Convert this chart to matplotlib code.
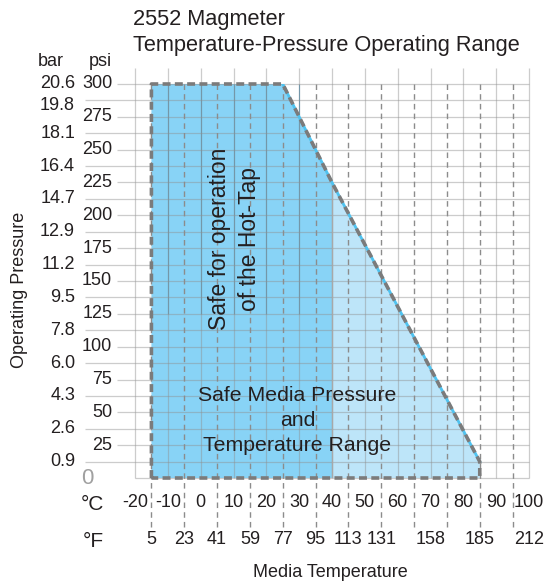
import numpy as np
import matplotlib.pyplot as plt

plt.rcParams['font.family'] = ['Liberation Sans', 'DejaVu Sans']

# data
temp_c = [-20, -10, 0, 10, 20, 30, 40, 50, 60, 70, 80, 90, 100]
temp_f_pos = [-15, -5, 5, 15, 25, 35, 45, 55, 70, 85, 100]
temp_f = [5, 23, 41, 59, 77, 95, 113, 131, 158, 185, 212]
psi_ticks = [25, 50, 75, 100, 125, 150, 175, 200, 225, 250, 275, 300]
bar_pos = [12.5, 37.5, 62.5, 87.5, 112.5, 137.5, 162.5, 187.5, 212.5, 237.5, 262.5, 284, 300]
bar_lab = ['0.9', '2.6', '4.3', '6.0', '7.8', '9.5', '11.2', '12.9', '14.7', '16.4', '18.1', '19.8', '20.6']

# operating envelope
env_t = [-15, 25, 40, 85]
env_p = [300, 300, 225, 12.5]
hot_tap_max_t = 40

fig = plt.figure(figsize=(5.54, 5.84), dpi=100)
W, H = 554, 584
ax = fig.add_axes([135 / W, (H - 478) / H, 394 / W, 394 / H])
ax.set_xlim(-20, 100)
ax.set_ylim(0, 300)
ax.axis('off')

txt_c = '#231f20'
grid_c = '#8f8f8f'
# horizontal grid every 12.5 psi
hl = np.arange(0, 301, 12.5)
ax.hlines(hl, -20, 100, color=grid_c, alpha=0.45, lw=0.9, zorder=3, clip_on=False)
ax.hlines(psi_ticks, -0.045, 0, transform=ax.get_yaxis_transform(), color=grid_c, alpha=0.45, lw=0.9, clip_on=False)
ax.hlines(bar_pos[:-2] + [287.5], -0.127, 0, transform=ax.get_yaxis_transform(), color=grid_c, alpha=0.45, lw=0.9, clip_on=False)
# vertical grid
ax.vlines(temp_c, 0, 312, color=grid_c, alpha=0.45, lw=0.9, zorder=3, clip_on=False)
dash_t = np.arange(-15, 96, 10)
ax.vlines(dash_t, -37, 300, color='#8c8c8c', lw=1.0, linestyles=(0, (4, 3)), zorder=3, clip_on=False)

# fills
ax.fill([env_t[0], env_t[0], env_t[1], env_t[2], env_t[2]],
        [0, env_p[0], env_p[1], env_p[2], 0], color='#88d3f6', zorder=1, lw=0)
ax.fill([env_t[2], env_t[2], env_t[3], env_t[3]],
        [0, env_p[2], env_p[3], 0], color='#bde5f9', zorder=1, lw=0)
# darker lines in hot-tap zone
ax.vlines([-10, 0, 10, 20, 30], 125, 300, color='#5f9fbf', lw=0.8, zorder=2)
ax.vlines([hot_tap_max_t], 0, env_p[2], color='#a8a8a8', lw=1.0, zorder=4)

# edge of envelope
ax.plot(env_t[1:], env_p[1:], color='#4fc3f0', lw=2.0, zorder=4)
ot = [env_t[0]] + env_t + [env_t[-1], env_t[0]]
op = [0] + env_p + [0, 0]
ax.plot(ot, op, color='#7b7b7b', lw=2.6, ls=(0, (2.2, 1.2)), zorder=5, clip_on=False)

fs = 13
ytr = ax.get_yaxis_transform()
# psi labels
for p in psi_ticks:
    ax.text(-0.058, p, str(p), transform=ytr, ha='right', va='center', fontsize=fs, color=txt_c)
for p, l in zip(bar_pos, bar_lab):
    ax.text(-0.152, p, l, transform=ytr, ha='right', va='center', fontsize=fs, color=txt_c)
ax.text(-0.122, 0, '0', transform=ytr, ha='center', va='center', fontsize=16, color='#a0a0a0')
ax.text(-0.213, 317, 'bar', transform=ytr, ha='center', va='center', fontsize=fs, color=txt_c)
ax.text(-0.089, 317, 'psi', transform=ytr, ha='center', va='center', fontsize=fs, color=txt_c)

# temperature labels
for t in temp_c:
    ax.text(t, -19, str(t), ha='center', va='center', fontsize=fs, color=txt_c)
for t, f in zip(temp_f_pos, temp_f):
    ax.text(t, -47, str(f), ha='center', va='center', fontsize=fs, color=txt_c)
ax.text(-0.107, -20, '°C', transform=ytr, ha='center', va='center', fontsize=15, color=txt_c)
ax.text(-0.107, -48, '°F', transform=ytr, ha='center', va='center', fontsize=15, color=txt_c)

ax.text(0.496, -0.239, 'Media Temperature', transform=ax.transAxes, ha='center', va='center', fontsize=13, color=txt_c)
ax.text(-0.292, 143, 'Operating Pressure', transform=ytr, rotation=90, ha='center', va='center', fontsize=13, color=txt_c)

# region labels
ax.text(10.3, 182, 'Safe for operation\nof the Hot-Tap', rotation=90, ha='center', va='center', fontsize=16.5, color=txt_c, linespacing=1.38, zorder=6)
ax.text(29.5, 43.5, 'Safe Media Pressure\nand\nTemperature Range', ha='center', va='center', fontsize=15.3, color=txt_c, linespacing=1.4, zorder=6)

fig.text(133 / W, 1 - 19 / H, '2552 Magmeter', ha='left', va='center', fontsize=15.7, color=txt_c)
fig.text(133 / W, 1 - 45 / H, 'Temperature-Pressure Operating Range', ha='left', va='center', fontsize=15.7, color=txt_c)

fig.savefig('out.png', dpi=100)
